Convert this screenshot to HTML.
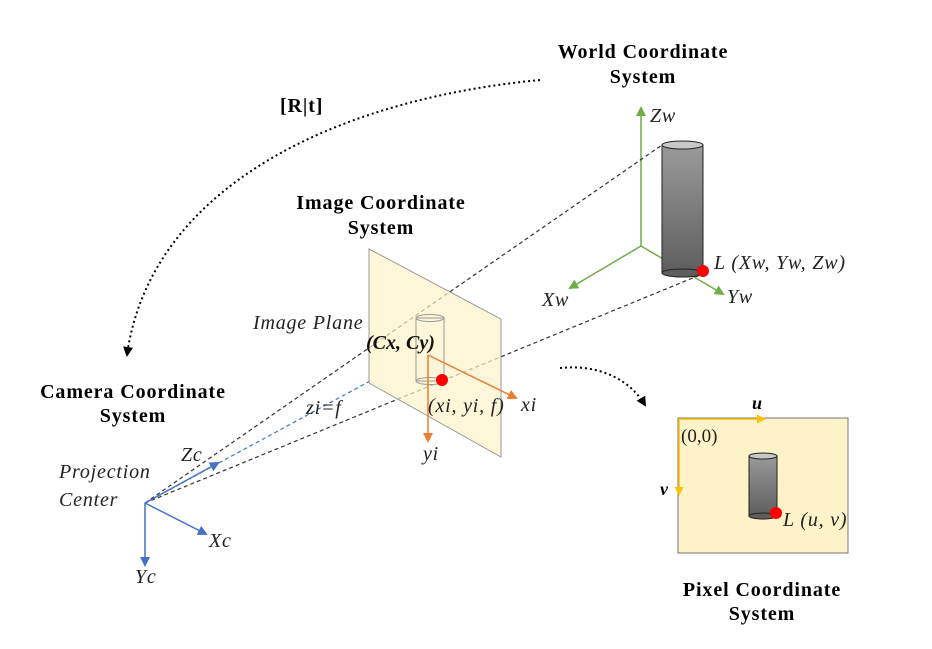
<!DOCTYPE html>
<html><head><meta charset="utf-8"><style>
html,body{margin:0;padding:0;background:#fff}
svg{display:block;font-family:"Liberation Serif",serif}
.b{font-weight:bold;font-size:20px;letter-spacing:0.9px;fill:#000}
.i{font-style:italic;font-size:20px;letter-spacing:0.8px;fill:#222}
</style></head><body>
<svg width="932" height="649" viewBox="0 0 932 649">
<defs>
<marker id="ab" markerWidth="10" markerHeight="10" refX="8" refY="5" orient="auto" markerUnits="userSpaceOnUse"><path d="M0,0 L10,5 L0,10Z" fill="#4472c4"/></marker>
<marker id="ag" markerWidth="10" markerHeight="10" refX="8" refY="5" orient="auto" markerUnits="userSpaceOnUse"><path d="M0,0 L10,5 L0,10Z" fill="#70ad47"/></marker>
<marker id="ao" markerWidth="10" markerHeight="10" refX="8" refY="5" orient="auto" markerUnits="userSpaceOnUse"><path d="M0,0 L10,5 L0,10Z" fill="#ed7d31"/></marker>
<marker id="ay" markerWidth="9" markerHeight="9" refX="7" refY="4.5" orient="auto" markerUnits="userSpaceOnUse"><path d="M0,0 L9,4.5 L0,9Z" fill="#ffc000"/></marker>
<marker id="ak" markerWidth="10" markerHeight="10" refX="8" refY="5" orient="auto" markerUnits="userSpaceOnUse"><path d="M0,0 L10,5 L0,10Z" fill="#000"/></marker>
<linearGradient id="cyl" x1="0" x2="0" y1="0" y2="1"><stop offset="0" stop-color="#9a9a9a"/><stop offset="1" stop-color="#5e5e5e"/></linearGradient>
</defs>

<text class="b" x="643" y="58" text-anchor="middle">World Coordinate</text>
<text class="b" x="643" y="83" text-anchor="middle">System</text>
<g stroke="#70ad47" stroke-width="1.5" fill="none">
<line x1="641" y1="246" x2="641" y2="108" marker-end="url(#ag)"/>
<line x1="641" y1="246" x2="570" y2="288" marker-end="url(#ag)"/>
<line x1="641" y1="246" x2="723" y2="294" marker-end="url(#ag)"/>
</g>
<text class="i" x="650" y="122">Zw</text>
<text class="i" x="542" y="306">Xw</text>
<text class="i" x="727" y="303">Yw</text>

<g stroke="#333" stroke-width="1.2" stroke-dasharray="4,3" fill="none">
<line x1="145" y1="503" x2="662" y2="145"/>
<line x1="145" y1="503" x2="700" y2="275"/>
</g>
<line x1="145" y1="503" x2="372" y2="380" stroke="#4472c4" stroke-width="1.2" stroke-dasharray="4,3"/>

<g>
<rect x="662" y="145" width="41" height="128" fill="url(#cyl)" stroke="#222" stroke-width="1"/>
<ellipse cx="682.5" cy="273" rx="20.5" ry="4" fill="#5e5e5e" stroke="#222"/>
<ellipse cx="682.5" cy="145" rx="20.5" ry="4" fill="#c8c8c8" stroke="#222"/>
</g>
<circle cx="703" cy="271" r="6" fill="#ff0000"/>
<text class="i" x="714" y="269">L (Xw, Yw, Zw)</text>

<text class="b" x="381" y="209" text-anchor="middle">Image Coordinate</text>
<text class="b" x="381" y="234" text-anchor="middle">System</text>
<polygon points="369,249 501,319 501,457 369,383" fill="#fdf2c8" fill-opacity="0.7" stroke="#999" stroke-width="1"/>
<g fill="none" stroke="#999">
<rect x="416" y="318" width="28" height="63"/>
<ellipse cx="430" cy="318" rx="14" ry="3.5"/>
<ellipse cx="430" cy="381" rx="14" ry="3.5"/>
</g>
<text class="i" x="253" y="329">Image Plane</text>
<text x="366" y="349" font-weight="bold" font-style="italic" font-size="20" fill="#111">(Cx, Cy)</text>
<g stroke="#ed7d31" stroke-width="1.5">
<line x1="428" y1="355" x2="516" y2="398" marker-end="url(#ao)"/>
<line x1="428" y1="355" x2="428" y2="441" marker-end="url(#ao)"/>
</g>
<circle cx="442" cy="380" r="6" fill="#ff0000"/>
<text class="i" x="428" y="412">(xi, yi, f)</text>
<text class="i" x="521" y="411">xi</text>
<text class="i" x="423" y="460">yi</text>

<text class="b" x="133" y="398" text-anchor="middle">Camera Coordinate</text>
<text class="b" x="133" y="422" text-anchor="middle">System</text>
<text class="i" x="306" y="414">zi=f</text>
<text class="i" x="59" y="478">Projection</text>
<text class="i" x="59" y="506">Center</text>
<g stroke="#4472c4" stroke-width="1.5">
<line x1="145" y1="503" x2="218" y2="463" marker-end="url(#ab)"/>
<line x1="145" y1="503" x2="206" y2="534" marker-end="url(#ab)"/>
<line x1="145" y1="503" x2="145" y2="565" marker-end="url(#ab)"/>
</g>
<text class="i" x="181" y="461">Zc</text>
<text class="i" x="209" y="547">Xc</text>
<text class="i" x="135" y="583">Yc</text>

<path d="M540,80 C330,100 150,190 127,355" fill="none" stroke="#000" stroke-width="2" stroke-dasharray="2,3" marker-end="url(#ak)"/>
<text class="b" x="280" y="112">[R|t]</text>
<path d="M560,368 C600,364 630,380 645,405" fill="none" stroke="#000" stroke-width="2" stroke-dasharray="2,3" marker-end="url(#ak)"/>

<rect x="678" y="418" width="170" height="135" fill="#fdf2c8" stroke="#777"/>
<g stroke="#ffc000" stroke-width="1.5">
<line x1="679" y1="419" x2="764" y2="419" marker-end="url(#ay)"/>
<line x1="679" y1="419" x2="679" y2="494" marker-end="url(#ay)"/>
</g>
<text x="752" y="409" font-weight="bold" font-style="italic" font-size="18">u</text>
<text x="660" y="495" font-weight="bold" font-style="italic" font-size="18">v</text>
<text x="681" y="442" font-size="19" fill="#222">(0,0)</text>
<g>
<rect x="749" y="456" width="28" height="60" fill="url(#cyl)" stroke="#222"/>
<ellipse cx="763" cy="516" rx="14" ry="3" fill="#5e5e5e" stroke="#222"/>
<ellipse cx="763" cy="456" rx="14" ry="3" fill="#c8c8c8" stroke="#222"/>
</g>
<circle cx="776" cy="513" r="6" fill="#ff0000"/>
<text class="i" x="783" y="526">L (u, v)</text>
<text class="b" x="762" y="596" text-anchor="middle">Pixel Coordinate</text>
<text class="b" x="762" y="620" text-anchor="middle">System</text>
</svg>
</body></html>
